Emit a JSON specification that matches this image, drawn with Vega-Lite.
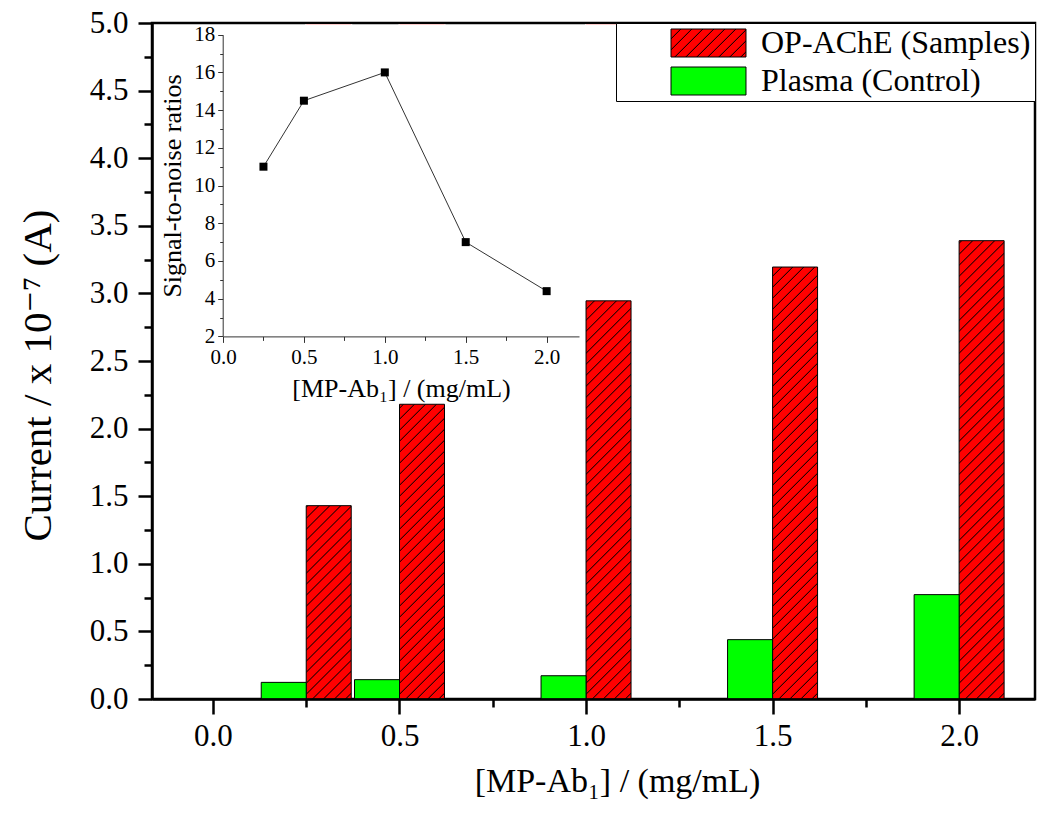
{
"$schema": "https://vega.github.io/schema/vega-lite/v6.json",
"width": 883, "height": 676,
"autosize": "none",
"padding": {"left": 152, "top": 23, "right": 15, "bottom": 133},
"config": {
  "view": {"stroke": "black", "strokeWidth": 2.5},
  "font": "Liberation Serif, DejaVu Serif, serif",
  "axis": {"labelFont": "Liberation Serif, DejaVu Serif, serif", "titleFont": "Liberation Serif, DejaVu Serif, serif", "titleFontWeight": "normal", "labelColor": "black", "titleColor": "black", "domainColor": "black", "tickColor": "black", "grid": false, "labelFlush": false, "labelOverlap": false}
},
"datasets": {
  "bars": [
    {"conc": 0.25, "series": "OP-AChE (Samples)", "current": 1.43},
    {"conc": 0.5, "series": "OP-AChE (Samples)", "current": 2.18},
    {"conc": 1.0, "series": "OP-AChE (Samples)", "current": 2.945},
    {"conc": 1.5, "series": "OP-AChE (Samples)", "current": 3.195},
    {"conc": 2.0, "series": "OP-AChE (Samples)", "current": 3.39},
    {"conc": 0.25, "series": "Plasma (Control)", "current": 0.123},
    {"conc": 0.5, "series": "Plasma (Control)", "current": 0.143},
    {"conc": 1.0, "series": "Plasma (Control)", "current": 0.172},
    {"conc": 1.5, "series": "Plasma (Control)", "current": 0.439},
    {"conc": 2.0, "series": "Plasma (Control)", "current": 0.772}
  ],
  "snr": [
    {"conc": 0.25, "snr": 11.0},
    {"conc": 0.5, "snr": 14.5},
    {"conc": 1.0, "snr": 16.0},
    {"conc": 1.5, "snr": 7.0},
    {"conc": 2.0, "snr": 4.4}
  ]
},
"layer": [
  {
    "data": {"name": "bars"},
    "layer": [
      {
        "transform": [{"filter": "datum.series === 'OP-AChE (Samples)'"}],
        "mark": {"type": "bar", "width": 45, "xOffset": 22.5, "strokeWidth": 0,
          "fill": {"gradient": "linear", "x1": 0, "y1": 0, "x2": 0.108273, "y2": 1.62325, "stops": [
            {"offset": 0, "color": "#f00"},
            {"offset": 0.198, "color": "#f00"},{"offset": 0.199, "color": "#000"},{"offset": 0.2, "color": "#f00"},
            {"offset": 0.208, "color": "#f00"},{"offset": 0.209, "color": "#000"},{"offset": 0.21, "color": "#f00"},
            {"offset": 0.218, "color": "#f00"},{"offset": 0.219, "color": "#000"},{"offset": 0.22, "color": "#f00"},
            {"offset": 0.228, "color": "#f00"},{"offset": 0.229, "color": "#000"},{"offset": 0.23, "color": "#f00"},
            {"offset": 0.238, "color": "#f00"},{"offset": 0.239, "color": "#000"},{"offset": 0.24, "color": "#f00"},
            {"offset": 0.248, "color": "#f00"},{"offset": 0.249, "color": "#000"},{"offset": 0.25, "color": "#f00"},
            {"offset": 0.258, "color": "#f00"},{"offset": 0.259, "color": "#000"},{"offset": 0.26, "color": "#f00"},
            {"offset": 0.268, "color": "#f00"},{"offset": 0.269, "color": "#000"},{"offset": 0.27, "color": "#f00"},
            {"offset": 0.278, "color": "#f00"},{"offset": 0.279, "color": "#000"},{"offset": 0.28, "color": "#f00"},
            {"offset": 0.288, "color": "#f00"},{"offset": 0.289, "color": "#000"},{"offset": 0.29, "color": "#f00"},
            {"offset": 0.298, "color": "#f00"},{"offset": 0.299, "color": "#000"},{"offset": 0.3, "color": "#f00"},
            {"offset": 0.308, "color": "#f00"},{"offset": 0.309, "color": "#000"},{"offset": 0.31, "color": "#f00"},
            {"offset": 0.318, "color": "#f00"},{"offset": 0.319, "color": "#000"},{"offset": 0.32, "color": "#f00"},
            {"offset": 0.328, "color": "#f00"},{"offset": 0.329, "color": "#000"},{"offset": 0.33, "color": "#f00"},
            {"offset": 0.338, "color": "#f00"},{"offset": 0.339, "color": "#000"},{"offset": 0.34, "color": "#f00"},
            {"offset": 0.348, "color": "#f00"},{"offset": 0.349, "color": "#000"},{"offset": 0.35, "color": "#f00"},
            {"offset": 0.358, "color": "#f00"},{"offset": 0.359, "color": "#000"},{"offset": 0.36, "color": "#f00"},
            {"offset": 0.368, "color": "#f00"},{"offset": 0.369, "color": "#000"},{"offset": 0.37, "color": "#f00"},
            {"offset": 0.378, "color": "#f00"},{"offset": 0.379, "color": "#000"},{"offset": 0.38, "color": "#f00"},
            {"offset": 0.388, "color": "#f00"},{"offset": 0.389, "color": "#000"},{"offset": 0.39, "color": "#f00"},
            {"offset": 0.398, "color": "#f00"},{"offset": 0.399, "color": "#000"},{"offset": 0.4, "color": "#f00"},
            {"offset": 0.408, "color": "#f00"},{"offset": 0.409, "color": "#000"},{"offset": 0.41, "color": "#f00"},
            {"offset": 0.418, "color": "#f00"},{"offset": 0.419, "color": "#000"},{"offset": 0.42, "color": "#f00"},
            {"offset": 0.428, "color": "#f00"},{"offset": 0.429, "color": "#000"},{"offset": 0.43, "color": "#f00"},
            {"offset": 0.438, "color": "#f00"},{"offset": 0.439, "color": "#000"},{"offset": 0.44, "color": "#f00"},
            {"offset": 0.448, "color": "#f00"},{"offset": 0.449, "color": "#000"},{"offset": 0.45, "color": "#f00"},
            {"offset": 0.458, "color": "#f00"},{"offset": 0.459, "color": "#000"},{"offset": 0.46, "color": "#f00"},
            {"offset": 0.468, "color": "#f00"},{"offset": 0.469, "color": "#000"},{"offset": 0.47, "color": "#f00"},
            {"offset": 0.478, "color": "#f00"},{"offset": 0.479, "color": "#000"},{"offset": 0.48, "color": "#f00"},
            {"offset": 0.488, "color": "#f00"},{"offset": 0.489, "color": "#000"},{"offset": 0.49, "color": "#f00"},
            {"offset": 0.498, "color": "#f00"},{"offset": 0.499, "color": "#000"},{"offset": 0.5, "color": "#f00"},
            {"offset": 0.508, "color": "#f00"},{"offset": 0.509, "color": "#000"},{"offset": 0.51, "color": "#f00"},
            {"offset": 0.518, "color": "#f00"},{"offset": 0.519, "color": "#000"},{"offset": 0.52, "color": "#f00"},
            {"offset": 0.528, "color": "#f00"},{"offset": 0.529, "color": "#000"},{"offset": 0.53, "color": "#f00"},
            {"offset": 0.538, "color": "#f00"},{"offset": 0.539, "color": "#000"},{"offset": 0.54, "color": "#f00"},
            {"offset": 0.548, "color": "#f00"},{"offset": 0.549, "color": "#000"},{"offset": 0.55, "color": "#f00"},
            {"offset": 0.558, "color": "#f00"},{"offset": 0.559, "color": "#000"},{"offset": 0.56, "color": "#f00"},
            {"offset": 0.568, "color": "#f00"},{"offset": 0.569, "color": "#000"},{"offset": 0.57, "color": "#f00"},
            {"offset": 0.578, "color": "#f00"},{"offset": 0.579, "color": "#000"},{"offset": 0.58, "color": "#f00"},
            {"offset": 0.588, "color": "#f00"},{"offset": 0.589, "color": "#000"},{"offset": 0.59, "color": "#f00"},
            {"offset": 0.598, "color": "#f00"},{"offset": 0.599, "color": "#000"},{"offset": 0.6, "color": "#f00"},
            {"offset": 0.608, "color": "#f00"},{"offset": 0.609, "color": "#000"},{"offset": 0.61, "color": "#f00"},
            {"offset": 0.618, "color": "#f00"},{"offset": 0.619, "color": "#000"},{"offset": 0.62, "color": "#f00"},
            {"offset": 0.628, "color": "#f00"},{"offset": 0.629, "color": "#000"},{"offset": 0.63, "color": "#f00"},
            {"offset": 0.638, "color": "#f00"},{"offset": 0.639, "color": "#000"},{"offset": 0.64, "color": "#f00"},
            {"offset": 0.648, "color": "#f00"},{"offset": 0.649, "color": "#000"},{"offset": 0.65, "color": "#f00"},
            {"offset": 0.658, "color": "#f00"},{"offset": 0.659, "color": "#000"},{"offset": 0.66, "color": "#f00"}
          ]}},
        "encoding": {
          "x": {"field": "conc", "type": "quantitative", "scale": {"domain": [-0.15, 2.19], "nice": false, "zero": false},
            "axis": {"orient": "bottom", "zindex": 1, "values": [0, 0.5, 1, 1.5, 2], "format": ".1f", "title": "[MP-Ab₁] / (mg/mL)", "titleX": 465, "labelFontSize": 31, "titleFontSize": 34, "tickSize": 15, "tickWidth": 2.5, "domainWidth": 2.5, "labelPadding": 7, "titlePadding": 13}},
          "y": {"datum": 0, "type": "quantitative", "scale": {"domain": [0, 5], "nice": false, "zero": false},
            "axis": {"orient": "left", "zindex": 1, "values": [0, 0.5, 1, 1.5, 2, 2.5, 3, 3.5, 4, 4.5, 5], "format": ".1f", "title": "Current / x 10⁻⁷ (A)", "titleY": 352, "labelFontSize": 31, "titleFontSize": 41, "tickSize": 14, "tickWidth": 2.5, "domainWidth": 2.5, "labelPadding": 10, "titlePadding": 30}},
          "y2": {"datum": 4.99}
        }
      },
      {
        "transform": [{"filter": "datum.series === 'OP-AChE (Samples)'"}],
        "mark": {"type": "bar", "width": 47, "xOffset": 22.5, "fill": "white", "strokeWidth": 0},
        "encoding": {
          "x": {"field": "conc", "type": "quantitative",
            "axis": {"orient": "bottom", "zindex": 1, "values": [0.25, 0.75, 1.25, 1.75], "labels": false, "domain": false, "tickSize": 8, "tickWidth": 2.5, "title": null}},
          "y": {"field": "current", "type": "quantitative",
            "axis": {"orient": "left", "zindex": 1, "values": [0.25, 0.75, 1.25, 1.75, 2.25, 2.75, 3.25, 3.75, 4.25, 4.75], "labels": false, "domain": false, "tickSize": 8, "tickWidth": 2.5, "title": null}},
          "y2": {"datum": 4.99}
        }
      },
      {
        "transform": [{"filter": "datum.series === 'OP-AChE (Samples)'"}],
        "mark": {"type": "bar", "width": 45, "xOffset": 22.5, "fill": "transparent", "stroke": "black", "strokeWidth": 1},
        "encoding": {
          "x": {"field": "conc", "type": "quantitative", "axis": null},
          "y": {"field": "current", "type": "quantitative", "axis": null},
          "y2": {"datum": 0}
        }
      },
      {
        "transform": [{"filter": "datum.series === 'Plasma (Control)'"}],
        "mark": {"type": "bar", "width": 45, "xOffset": -22.5, "stroke": "black", "strokeWidth": 1},
        "encoding": {
          "x": {"field": "conc", "type": "quantitative", "axis": null},
          "y": {"field": "current", "type": "quantitative", "axis": null},
          "y2": {"datum": 0},
          "color": {"field": "series", "type": "nominal",
            "scale": {"domain": ["OP-AChE (Samples)", "Plasma (Control)"], "range": [
              {"expr": "{gradient: 'linear', x1: 0, y1: 0, x2: 1.2867, y2: 0.4814, stops: [{offset: 0, color: '#f00'}, {offset: 0.08, color: '#f00'}, {offset: 0.09, color: '#000'}, {offset: 0.1, color: '#f00'}, {offset: 0.18, color: '#f00'}, {offset: 0.19, color: '#000'}, {offset: 0.2, color: '#f00'}, {offset: 0.28, color: '#f00'}, {offset: 0.29, color: '#000'}, {offset: 0.3, color: '#f00'}, {offset: 0.38, color: '#f00'}, {offset: 0.39, color: '#000'}, {offset: 0.4, color: '#f00'}, {offset: 0.48, color: '#f00'}, {offset: 0.49, color: '#000'}, {offset: 0.5, color: '#f00'}, {offset: 0.58, color: '#f00'}, {offset: 0.59, color: '#000'}, {offset: 0.6, color: '#f00'}, {offset: 0.68, color: '#f00'}, {offset: 0.69, color: '#000'}, {offset: 0.7, color: '#f00'}, {offset: 0.78, color: '#f00'}, {offset: 0.79, color: '#000'}, {offset: 0.8, color: '#f00'}, {offset: 0.88, color: '#f00'}, {offset: 0.89, color: '#000'}, {offset: 0.9, color: '#f00'}, {offset: 0.98, color: '#f00'}, {offset: 0.99, color: '#000'}, {offset: 1, color: '#f00'}]}"},
              "#00ff00"]},
            "legend": {"orient": "top-right", "offset": 0, "title": null, "labelFont": "Liberation Serif, DejaVu Serif, serif", "labelFontSize": 32, "labelColor": "black", "labelLimit": 500,
              "symbolType": "M2.5,-1H7.857V1H2.5Z", "symbolSize": 784, "symbolStrokeColor": "black", "symbolStrokeWidth": 1, "symbolOpacity": 1,
              "labelOffset": 109, "padding": 4, "rowPadding": 6, "strokeColor": "black", "fillColor": "white", "zindex": 1}
          }
        }
      }
    ],
    "resolve": {"axis": {"x": "independent", "y": "independent"}}
  },
  {
    "data": {"name": "snr"},
    "layer": [
      {
        "mark": {"type": "line", "color": "#333333", "strokeWidth": 1},
        "encoding": {
          "x": {"field": "conc", "type": "quantitative", "scale": {"domain": [0, 2.2], "range": [71, 427], "nice": false, "zero": false},
            "axis": {"orient": "bottom", "zindex": 1, "offset": -362.6, "values": [0, 0.5, 1, 1.5, 2], "format": ".1f", "title": "[MP-Ab₁] / (mg/mL)", "labelFontSize": 21, "titleFontSize": 26, "tickSize": 6, "tickWidth": 1, "domainWidth": 1, "domainColor": "#333333", "tickColor": "#333333", "labelPadding": 4, "titlePadding": 8}},
          "y": {"field": "snr", "type": "quantitative", "scale": {"domain": [2, 18], "range": [313.4, 11.7], "nice": false, "zero": false},
            "axis": {"orient": "left", "zindex": 1, "offset": -70.7, "values": [2, 4, 6, 8, 10, 12, 14, 16, 18], "format": "d", "title": "Signal-to-noise ratios", "labelFontSize": 21, "titleFontSize": 26, "tickSize": 5, "tickWidth": 1, "domainWidth": 1, "domainColor": "#333333", "tickColor": "#333333", "labelPadding": 3, "titlePadding": 8}}
        }
      },
      {
        "mark": {"type": "square", "filled": true, "color": "black", "size": 64, "opacity": 1},
        "encoding": {
          "x": {"field": "conc", "type": "quantitative",
            "axis": {"orient": "bottom", "zindex": 1, "offset": -362.6, "values": [0.25, 0.75, 1.25, 1.75], "labels": false, "domain": false, "tickSize": 4, "tickWidth": 1, "tickColor": "#333333", "title": null}},
          "y": {"field": "snr", "type": "quantitative",
            "axis": {"orient": "left", "zindex": 1, "offset": -70.7, "values": [3, 5, 7, 9, 11, 13, 15, 17], "labels": false, "domain": false, "tickSize": 3, "tickWidth": 1, "tickColor": "#333333", "title": null}}
        }
      }
    ],
    "resolve": {"axis": {"x": "independent", "y": "independent"}}
  }
],
"resolve": {"scale": {"x": "independent", "y": "independent"}, "axis": {"x": "independent", "y": "independent"}}
}
